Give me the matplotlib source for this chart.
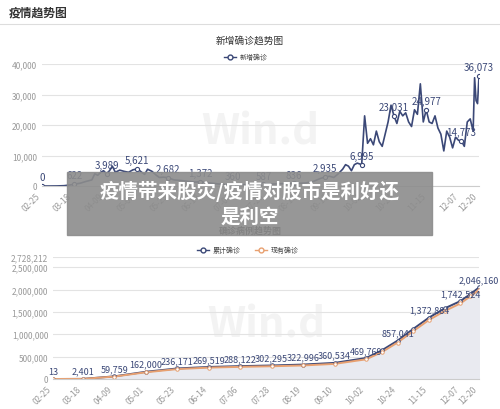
import matplotlib
matplotlib.use("Agg")
import matplotlib.pyplot as plt
from matplotlib.patches import Rectangle
from matplotlib.lines import Line2D

plt.rcParams['font.family'] = ['Noto Sans CJK SC', 'DejaVu Sans']

tick_days = [0, 21, 43, 65, 87, 109, 131, 153, 175, 197, 219, 241, 263, 285, 298]
tick_labels = ['02-25', '03-18', '04-09', '05-01', '05-23', '06-14', '07-06', '07-28',
               '08-19', '09-10', '10-02', '10-24', '11-15', '12-07', '12-20']

new_days = [0, 5, 10, 15, 20, 22, 26, 30, 34, 36, 38, 40, 42, 44, 46, 48, 50, 53, 56, 59, 62, 65,
            68, 70, 72, 75, 78, 80, 83, 86, 90, 95, 100, 104, 108, 112, 116, 120, 125, 130, 135,
            140, 145, 151, 155, 160, 165, 172, 176, 180, 185, 190, 193, 196, 199, 202, 205, 207,
            209, 211, 213, 215, 218, 220, 222, 224, 226, 228, 230, 232, 234, 236, 238, 240, 242,
            244, 246, 248, 250, 252, 254, 256, 258, 260, 262, 264, 266, 268, 270, 272, 274, 276,
            278, 280, 282, 284, 286, 288, 290, 292, 294, 295, 296, 297, 298]
new_vals = [0, 0, 20, 100, 400, 622, 900, 1500, 2000, 4000, 3500, 4500, 5000, 3989, 5000, 6500,
            4500, 5200, 4800, 4500, 5300, 5621, 4500, 3800, 5500, 4800, 3500, 2800, 2900, 2682,
            2000, 1800, 1500, 1300, 1372, 1100, 900, 700, 500, 360, 400, 500, 550, 587, 600, 700,
            750, 836, 900, 1000, 1500, 2500, 2935, 3200, 2800, 4000, 5500, 7000, 6500, 5000, 7000,
            7500, 6995, 23000, 14000, 15500, 13500, 18000, 14500, 13000, 17000, 21000, 26500,
            23031, 20500, 24500, 23000, 24000, 21000, 19500, 25000, 23500, 33500, 21000, 24977,
            21000, 20500, 23000, 19000, 17000, 11500, 18000, 16000, 12500, 16000, 15000, 14773,
            13000, 21000, 22000, 18000, 35500, 28000, 27000, 36073]
new_label_days = [0, 22, 44, 65, 86, 108, 130, 151, 172, 193, 218, 240, 262, 286, 298]

cum_days = [0, 21, 43, 65, 87, 109, 131, 153, 175, 197, 219, 230, 241, 252, 263, 274, 285, 292, 298]
cum_vals = [13, 2401, 59759, 162000, 236171, 269519, 288122, 302295, 322996, 360534, 469769,
            640000, 857041, 1120000, 1372884, 1580000, 1742524, 1900000, 2046160]
cur_vals = [0, 2300, 55000, 150000, 222000, 255000, 272000, 285000, 303000, 338000, 440000,
            600000, 815000, 1070000, 1320000, 1520000, 1690000, 1850000, 1990000]
cum_label_idx = [0, 1, 2, 3, 4, 5, 6, 7, 8, 9, 10, 12, 14, 16, 18]

W, H = 500, 410
fig = plt.figure(figsize=(5, 4.1), dpi=100)
gray = '#999999'
navy = '#3b4877'
orange = '#e8a070'

def fx(x): return x / W
def fy(y): return 1 - y / H

fig.text(fx(9), fy(13), '疫情趋势图', fontsize=8.5, fontweight='bold', color='#333', va='center')
fig.add_artist(Line2D([0, 1], [fy(25), fy(25)], color='#dddddd', lw=0.8))

# top chart
ax1 = fig.add_axes([fx(42), fy(187), fx(479 - 42), (187 - 65) / H])
ax1.plot(new_days, new_vals, color=navy, lw=1.2)
ld = [d for d in new_label_days]
lv = [new_vals[new_days.index(d)] for d in ld]
ax1.plot(ld, lv, 'o', ms=3, mfc='white', mec=navy, mew=0.8)
for d, v in zip(ld, lv):
    ax1.text(d, v + 1200, f'{v:,}', ha='center', va='bottom', fontsize=7, color=navy)
ax1.set_ylim(0, 40000)
ax1.set_xlim(0, 298)
ax1.set_yticks([0, 10000, 20000, 30000, 40000])
ax1.set_yticklabels(['0', '10,000', '20,000', '30,000', '40,000'])
ax1.set_xticks(tick_days)
ax1.set_xticklabels(tick_labels, rotation=45, ha='right')
fig.text(0.5, fy(41), '新增确诊趋势图', ha='center', va='center', fontsize=7, color='#333')
fig.add_artist(Line2D([fx(224), fx(236)], [fy(58), fy(58)], color=navy, lw=1))
fig.add_artist(Line2D([fx(230)], [fy(58)], marker='o', ms=3.5, mfc='white', mec=navy))
fig.text(fx(240), fy(58), '新增确诊', fontsize=5, va='center', color='#444')

# bottom chart
ax2 = fig.add_axes([fx(53), fy(380), fx(479 - 53), (380 - 258) / H])
ax2.fill_between(cum_days, cum_vals, color='#e9eaf0')
ax2.plot(cum_days, cum_vals, color=navy, lw=1.4)
ax2.plot(cum_days, cur_vals, color=orange, lw=1.4)
ax2.plot(cum_days, cum_vals, 'o', ms=2.5, mfc='white', mec=navy, mew=0.7)
ax2.plot(cum_days, cur_vals, 'o', ms=2.5, mfc='white', mec=orange, mew=0.7)
for i in cum_label_idx:
    ax2.text(cum_days[i], cum_vals[i] + 70000, f'{cum_vals[i]:,}', ha='center', va='bottom',
             fontsize=6.5, color=navy)
ax2.set_ylim(0, 2728212)
ax2.set_xlim(0, 298)
ax2.set_yticks([0, 500000, 1000000, 1500000, 2000000, 2500000, 2728212])
ax2.set_yticklabels(['0', '500,000', '1,000,000', '1,500,000', '2,000,000', '2,500,000', '2,728,212'])
ax2.set_xticks(tick_days)
ax2.set_xticklabels(tick_labels, rotation=45, ha='right')
fig.text(0.5, fy(231), '确诊病例趋势图', ha='center', va='center', fontsize=6.5, color='#333', fontweight='bold')
for x0, c, lab in [(197, navy, '累计确诊'), (255, orange, '现有确诊')]:
    fig.add_artist(Line2D([fx(x0), fx(x0 + 12)], [fy(251), fy(251)], color=c, lw=1))
    fig.add_artist(Line2D([fx(x0 + 6)], [fy(251)], marker='o', ms=3.5, mfc='white', mec=c))
    fig.text(fx(x0 + 16), fy(251), lab, fontsize=5, va='center', color='#444')

for ax in (ax1, ax2):
    ax.grid(axis='y', color='#e3e3e3', lw=0.8)
    ax.set_axisbelow(True)
    for s in ['top', 'right', 'left']:
        ax.spines[s].set_visible(False)
    ax.spines['bottom'].set_color('#cccccc')
    ax.tick_params(axis='both', labelsize=6, colors=gray, length=0)
    ax.text(0.5, 0.45, 'Win.d', transform=ax.transAxes, ha='center', va='center',
            fontsize=30, color='#f3f3f3', fontweight='bold', zorder=0)

# banner overlay
fig.add_artist(Rectangle((fx(67), fy(236)), fx(432 - 67), (236 - 173) / H,
                         color='#8c8c8c', alpha=0.9, zorder=10))
fig.text(0.5, fy(191), '疫情带来股灾/疫情对股市是利好还', ha='center', va='center',
         fontsize=14, fontweight='bold', color='white', zorder=11)
fig.text(0.5, fy(217), '是利空', ha='center', va='center',
         fontsize=14, fontweight='bold', color='white', zorder=11)

fig.savefig('out.png', dpi=100, facecolor='white')
